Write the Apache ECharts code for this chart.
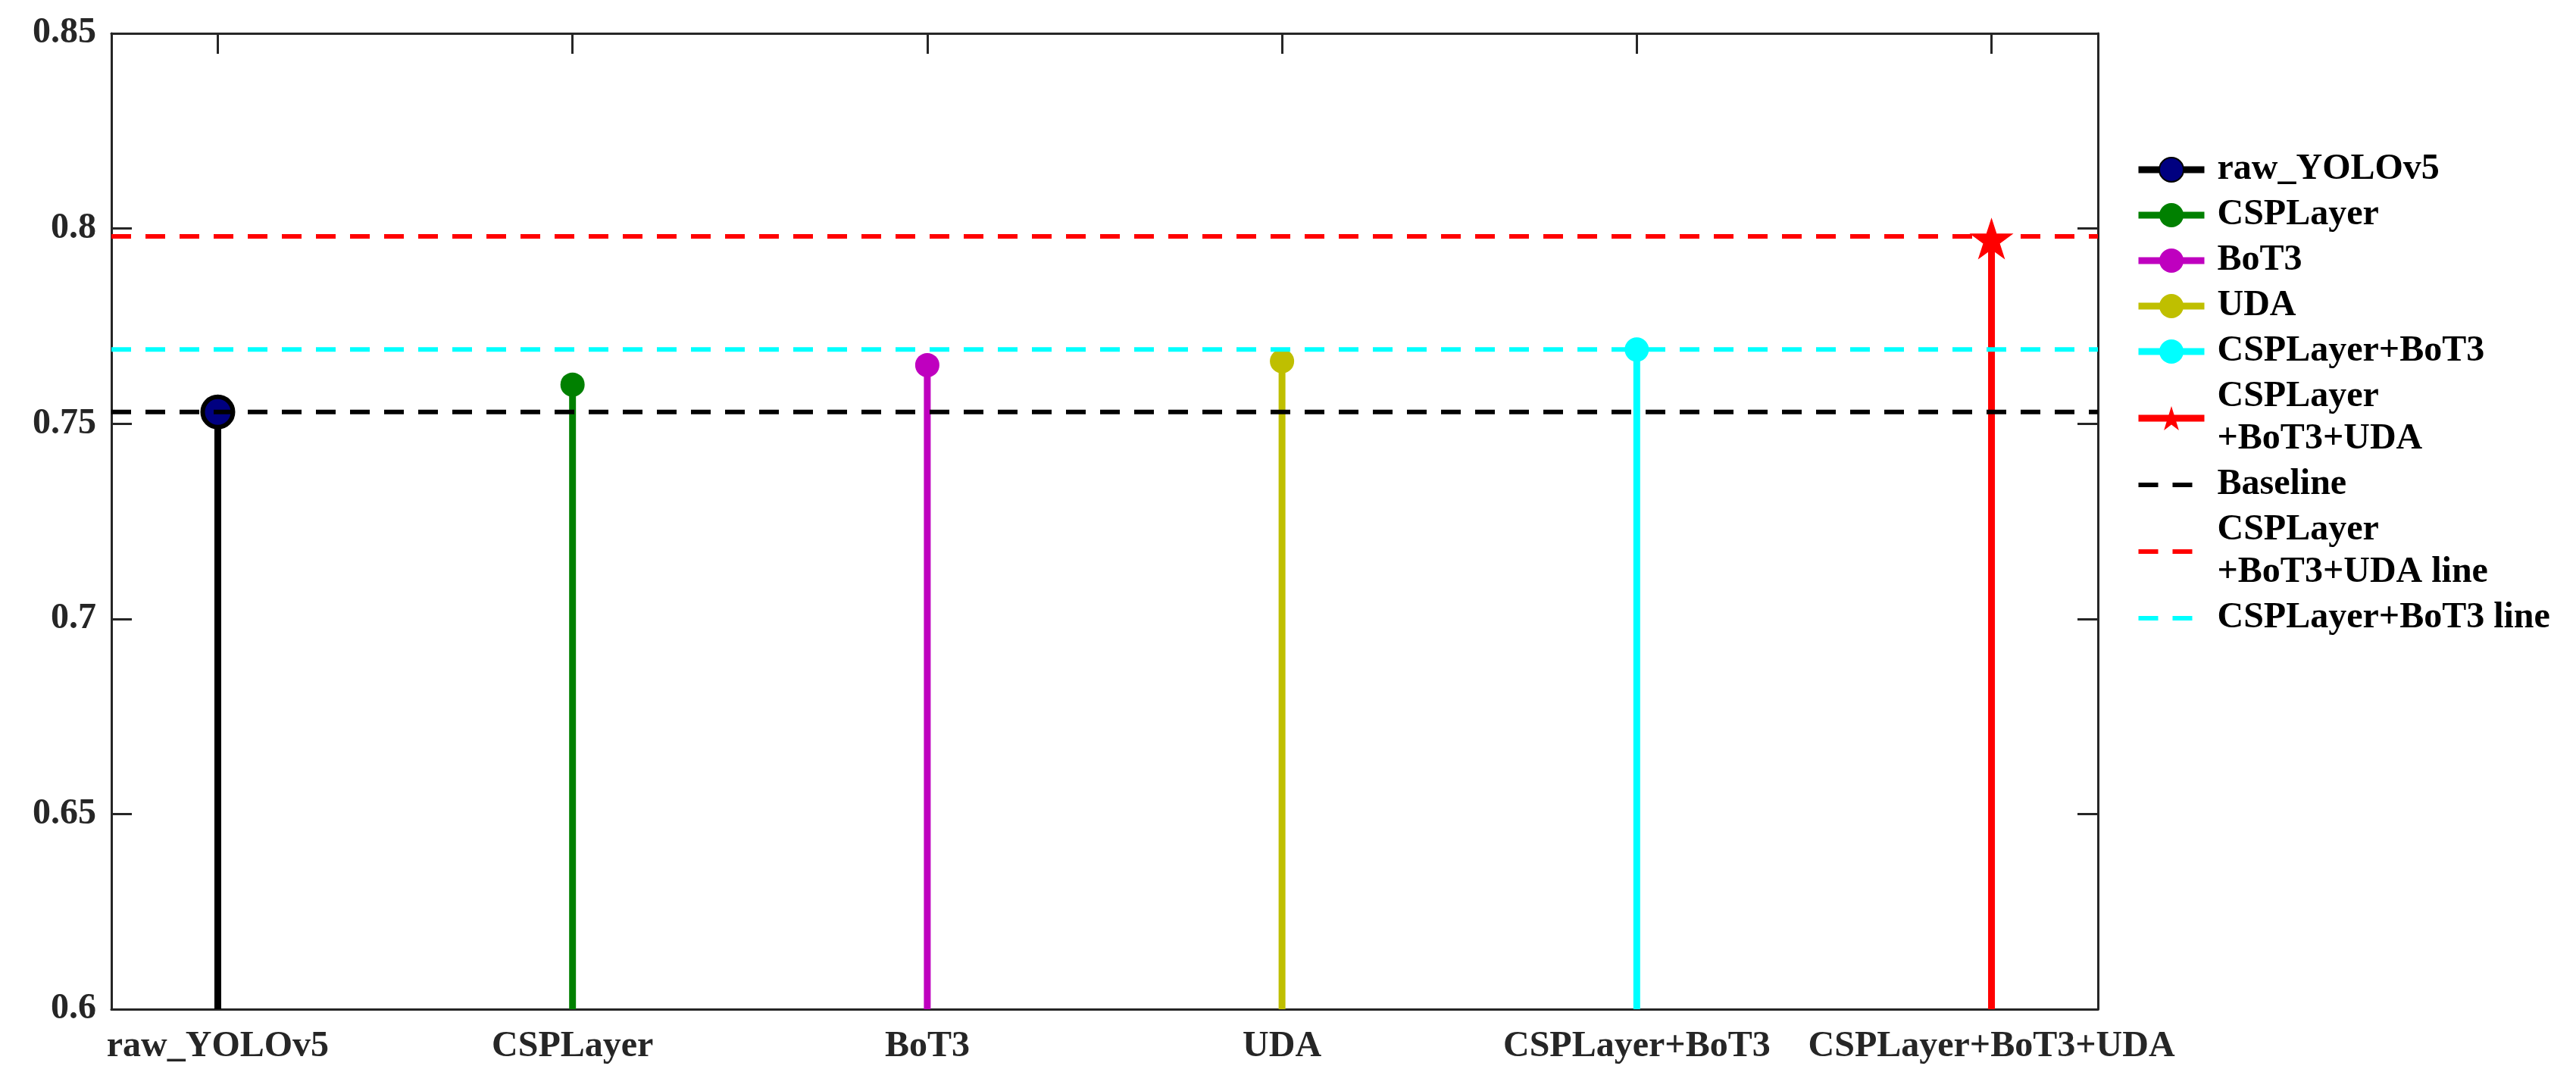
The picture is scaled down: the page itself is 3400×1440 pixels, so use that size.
<!DOCTYPE html>
<html>
<head>
<meta charset="utf-8">
<script src="https://cdn.jsdelivr.net/npm/echarts@6/dist/echarts.min.js"></script>
<style>
  html, body { margin: 0; padding: 0; background: #fff; }
  #chart { width: 3400px; height: 1440px; }
</style>
</head>
<body>
<div id="chart"></div>
<script>
// data
const categories = ['raw_YOLOv5', 'CSPLayer', 'BoT3', 'UDA', 'CSPLayer+BoT3', 'CSPLayer+BoT3+UDA'];
const positions = [1, 2, 3, 4, 5, 6];
const scores = [0.753, 0.760, 0.765, 0.766, 0.769, 0.798];
const refNames = ['Baseline', 'CSPLayer+BoT3+UDA line', 'CSPLayer+BoT3 line'];
const refValues = [0.753, 0.798, 0.769];
const yTicks = [0.6, 0.65, 0.7, 0.75, 0.8, 0.85];

const stemColors = ['#000000', '#008000', '#BF00BF', '#BFBF00', '#00FFFF', '#FF0000'];
const refColors = ['#000000', '#FF0000', '#00FFFF'];
const starPath = 'path://M50,0 L61.2,34.5 L97.6,34.5 L68.2,55.9 L79.4,90.5 L50,69.1 L20.6,90.5 L31.8,55.9 L2.4,34.5 L38.8,34.5 Z';

const FONT = 'Liberation Serif';
const axisCol = '#262626';
const xMin = 0.7, xMax = 6.3;

const chart = echarts.init(document.getElementById('chart'));

const stemSeries = categories.map((name, i) => {
    const isFirst = i === 0;
    const isLast = i === categories.length - 1;
    return {
        name: name,
        type: 'line',
        symbol: isLast ? starPath : 'circle',
        symbolKeepAspect: true,
        symbolSize: isFirst ? 40 : (isLast ? 58 : 32),
        symbolOffset: isLast ? [0, 3] : [0, 0],
        lineStyle: { color: stemColors[i], width: 9 },
        itemStyle: isFirst
            ? { color: '#000080', borderColor: '#000', borderWidth: 6 }
            : { color: stemColors[i], borderWidth: 0 },
        data: [
            { value: [positions[i], yTicks[0]], symbol: 'none' },
            { value: [positions[i], scores[i]] }
        ],
        z: 2
    };
});

const refSeries = refNames.map((name, i) => ({
    name: name,
    type: 'line',
    symbol: 'none',
    lineStyle: { color: refColors[i], width: 6, type: [26, 19] },
    itemStyle: { color: refColors[i] },
    data: [[xMin, refValues[i]], [xMax, refValues[i]]],
    z: 3
}));

function xAxisCfg(pos, showLabel) {
    return {
        type: 'value',
        position: pos,
        min: xMin,
        max: xMax,
        splitLine: { show: false },
        axisLine: { show: true, onZero: false, lineStyle: { color: axisCol, width: 3 } },
        axisTick: { show: true, inside: true, length: 27, customValues: positions,
            lineStyle: { color: axisCol, width: 3 } },
        axisLabel: {
            show: showLabel,
            customValues: positions,
            formatter: (v) => categories[Math.round(v) - 1] || '',
            fontFamily: FONT, fontWeight: 'bold', fontSize: 48, color: axisCol, margin: 26
        }
    };
}

function yAxisCfg(pos, showLabel) {
    return {
        type: 'value',
        position: pos,
        min: 0.6,
        max: 0.85,
        interval: 0.05,
        splitLine: { show: false },
        axisLine: { show: true, onZero: false, lineStyle: { color: axisCol, width: 3 } },
        axisTick: { show: true, inside: true, length: 27, lineStyle: { color: axisCol, width: 3 } },
        axisLabel: {
            show: showLabel,
            formatter: (v) => String(+v.toFixed(2)),
            fontFamily: FONT, fontWeight: 'bold', fontSize: 48, color: axisCol, margin: 20
        }
    };
}

// legend entries: stems keep their marker, reference lines show only the dashed line
const legendData = categories.map((name) => ({ name: name })).concat(
    refNames.map((name) => ({
        name: name,
        itemStyle: { color: 'rgba(0,0,0,0)', borderWidth: 0, opacity: 0 }
    }))
);

const option = {
    animation: false,
    backgroundColor: '#fff',
    grid: { left: 147, right: 631, top: 44, bottom: 108, containLabel: false },
    xAxis: [xAxisCfg('bottom', true), xAxisCfg('top', false)],
    yAxis: [yAxisCfg('left', true), yAxisCfg('right', false)],
    legend: {
        orient: 'vertical',
        left: 2813,
        top: 191,
        itemWidth: 87,
        itemHeight: 40,
        itemGap: 4,
        data: legendData,
        lineStyle: { width: 'inherit', type: 'inherit' },
        formatter: (name) => name.replace(/^CSPLayer\+BoT3\+UDA/, 'CSPLayer\n+BoT3+UDA'),
        textStyle: {
            fontFamily: FONT, fontWeight: 'bold', fontSize: 48, color: '#000',
            lineHeight: 56, padding: [0, 0, 0, 12]
        }
    },
    series: stemSeries.concat(refSeries)
};

chart.setOption(option);
</script>
</body>
</html>
